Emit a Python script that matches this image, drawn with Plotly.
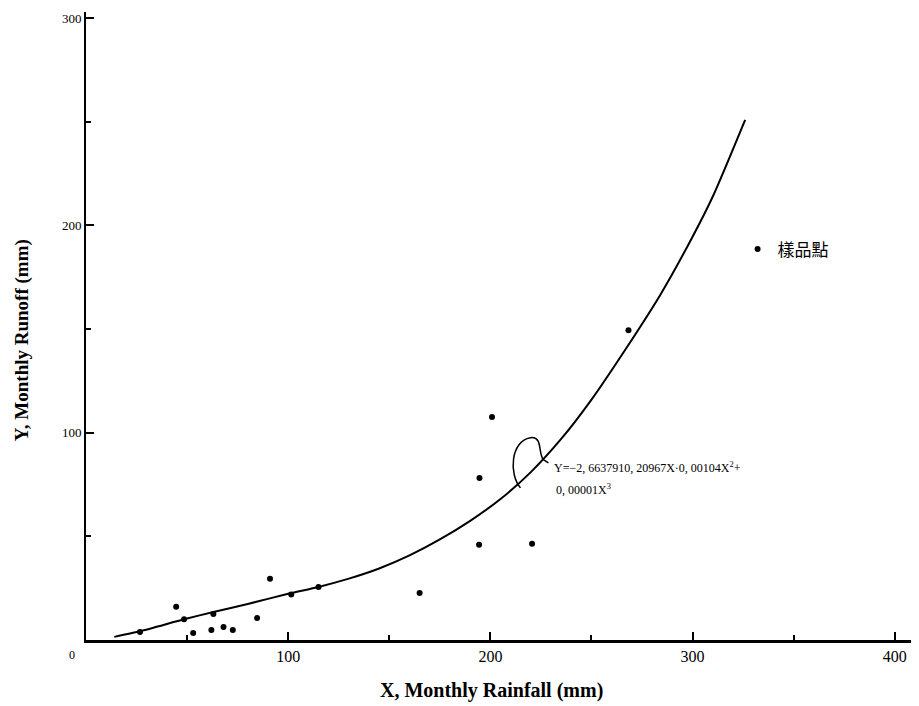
import plotly.graph_objects as go

# Observed sample points (monthly rainfall X, monthly runoff Y), mm
rain_x = [26.7, 44.6, 48.5, 53, 62, 63, 68, 72.6, 84.6, 91, 101.5, 115, 165, 194.4, 194.6, 200.8, 220.6, 268.3]
runoff_y = [3.9, 16, 10, 3.4, 4.8, 12.6, 6.3, 4.8, 10.6, 29.5, 22, 25.6, 22.7, 45.9, 78.2, 107.6, 46.4, 149.4]

# Fitted regression curve
curve_x = [14, 27, 48.5, 63, 80, 100, 115, 130, 145, 160, 175, 190, 205, 220, 235, 250, 268, 284, 297.5, 310, 326]
curve_y = [1.5, 4.3, 10, 13.5, 17.4, 22.3, 25.6, 29.6, 34.5, 40.8, 48.5, 57.5, 68, 81, 97, 116, 142, 166.5, 190, 214, 251]

x_ticks = [100, 200, 300, 400]
y_ticks = [100, 200, 300]

serif = "Liberation Serif"

fig = go.Figure()
fig.add_trace(go.Scatter(x=curve_x, y=curve_y, mode="lines",
                         line=dict(color="black", width=2, shape="spline", smoothing=0.6),
                         showlegend=False, hoverinfo="skip"))
fig.add_trace(go.Scatter(x=rain_x, y=runoff_y, mode="markers", name="樣品點",
                         marker=dict(color="black", size=6)))

# hand-drawn loop pointer to the equation
fig.add_shape(type="path", xref="x", yref="y",
              path="M 214.9,73.4 C 209,80 210,96 219.8,97.6 C 226,98.5 223.5,90 226.2,87 L 228.7,85.5",
              line=dict(color="black", width=1.5))

# page body adds an 8px offset, so the figure is 8px smaller and margins compensate
fig.update_layout(
    width=911, height=698,
    margin=dict(l=78, r=4, t=4, b=66, autoexpand=False),
    paper_bgcolor="white", plot_bgcolor="white",
    font=dict(family=serif, size=13, color="black"),
    showlegend=True,
    legend=dict(x=0.786, y=0.622, xanchor="left", yanchor="middle",
                bgcolor="rgba(0,0,0,0)",
                font=dict(family="Noto Sans CJK TC", size=17, color="black"),
                itemwidth=30),
    xaxis=dict(range=[0, 410], tickvals=x_ticks, ticks="inside", ticklen=8, tickwidth=1.5,
               tickcolor="black", showline=True, linecolor="black", linewidth=2.5,
               showgrid=False, zeroline=False, automargin=False,
               tickfont=dict(family=serif, size=16),
               minor=dict(dtick=50, tick0=0, ticks="inside", ticklen=5, tickcolor="black", showgrid=False)),
    yaxis=dict(range=[0, 303], tickvals=y_ticks, ticks="inside", ticklen=8, tickwidth=1.5,
               tickcolor="black", showline=True, linecolor="black", linewidth=2,
               showgrid=False, zeroline=False, automargin=False,
               tickfont=dict(family=serif, size=13),
               minor=dict(dtick=50, tick0=0, ticks="inside", ticklen=5, tickcolor="black", showgrid=False)),
)

fig.add_annotation(text="Y=−2, 6637910, 20967X·0, 00104X<sup>2</sup>+",
                   x=230.5, y=83.1, xref="x", yref="y", xanchor="left", yanchor="middle",
                   align="left", showarrow=False, font=dict(family=serif, size=12))
fig.add_annotation(text="0, 00001X<sup>3</sup>",
                   x=231.5, y=72.5, xref="x", yref="y", xanchor="left", yanchor="middle",
                   align="left", showarrow=False, font=dict(family=serif, size=12))
fig.add_annotation(text="<b>X, Monthly Rainfall (mm)</b>", x=(491 - 86) / 829, y=-0.080,
                   xref="paper", yref="paper", xanchor="center", yanchor="middle",
                   showarrow=False, font=dict(family=serif, size=20))
fig.add_annotation(text="<b>Y, Monthly Runoff (mm)</b>", x=-0.077, y=(640 - 340) / 628,
                   xref="paper", yref="paper", xanchor="center", yanchor="middle",
                   textangle=-90, showarrow=False, font=dict(family=serif, size=19))
fig.add_annotation(text="0", x=-0.017, y=-0.024, xref="paper", yref="paper",
                   xanchor="center", yanchor="middle", showarrow=False,
                   font=dict(family=serif, size=12))

fig.write_html("out.html")
